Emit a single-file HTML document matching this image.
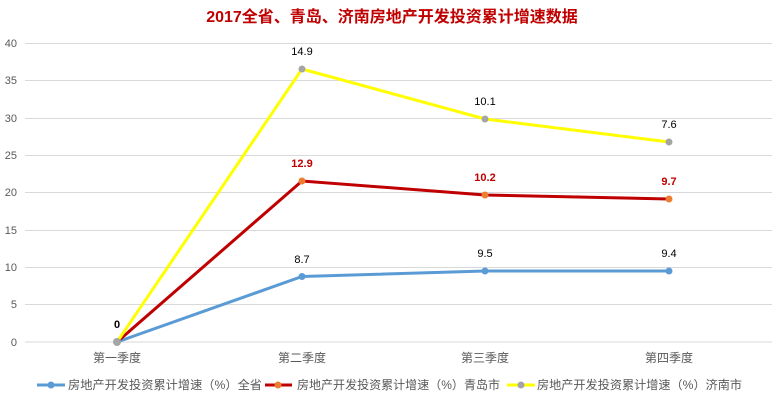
<!DOCTYPE html>
<html><head><meta charset="utf-8"><style>
html,body{margin:0;padding:0;background:#fff;}
svg{display:block;font-family:"Liberation Sans","Noto Sans CJK SC",sans-serif;}
</style></head><body>
<svg width="775" height="402" viewBox="0 0 775 402" xmlns="http://www.w3.org/2000/svg">
<rect width="775" height="402" fill="#fff"/>
<text x="392" y="22" text-anchor="middle" font-size="16" font-weight="bold" fill="#c00000">2017全省、青岛、济南房地产开发投资累计增速数据</text>
<g stroke="#d9d9d9" stroke-width="1">
<line x1="25" x2="772" y1="43.5" y2="43.5"/>
<line x1="25" x2="772" y1="80.5" y2="80.5"/>
<line x1="25" x2="772" y1="118.5" y2="118.5"/>
<line x1="25" x2="772" y1="155.5" y2="155.5"/>
<line x1="25" x2="772" y1="192.5" y2="192.5"/>
<line x1="25" x2="772" y1="230.5" y2="230.5"/>
<line x1="25" x2="772" y1="267.5" y2="267.5"/>
<line x1="25" x2="772" y1="304.5" y2="304.5"/>
<line x1="25" x2="772" y1="342" y2="342"/>
</g>
<g font-size="11" fill="#595959" text-anchor="end">
<text x="17" y="47">40</text><text x="17" y="84">35</text><text x="17" y="122">30</text>
<text x="17" y="159">25</text><text x="17" y="196">20</text><text x="17" y="234">15</text>
<text x="17" y="271">10</text><text x="17" y="308">5</text><text x="17" y="346">0</text>
</g>
<g font-size="12" fill="#595959" text-anchor="middle">
<text x="117" y="362">第一季度</text><text x="302" y="362">第二季度</text>
<text x="485" y="362">第三季度</text><text x="669" y="362">第四季度</text>
</g>
<polyline points="117,342 302,276.5 485,271 669,271" fill="none" stroke="#5b9bd5" stroke-width="3"/>
<polyline points="117,342 302,181 485,195 669,199" fill="none" stroke="#c00000" stroke-width="3"/>
<polyline points="117,342 302,69 485,119 669,142" fill="none" stroke="#ffff00" stroke-width="3"/>
<g fill="#5b9bd5"><circle cx="302" cy="276.5" r="3.5"/><circle cx="485" cy="271" r="3.5"/><circle cx="669" cy="271" r="3.5"/></g>
<g fill="#ed7d31"><circle cx="302" cy="181" r="3.5"/><circle cx="485" cy="195" r="3.5"/><circle cx="669" cy="199" r="3.5"/></g>
<g fill="#a5a5a5"><circle cx="117" cy="342" r="4"/><circle cx="302" cy="69" r="3.5"/><circle cx="485" cy="119" r="3.5"/><circle cx="669" cy="142" r="3.5"/></g>
<g font-size="11" text-anchor="middle" fill="#000">
<text x="117" y="328" font-weight="bold">0</text>
<text x="302" y="263">8.7</text><text x="485" y="257">9.5</text><text x="669" y="257">9.4</text>
<text x="302" y="55">14.9</text><text x="485" y="105">10.1</text><text x="669" y="128">7.6</text>
</g>
<g font-size="11" text-anchor="middle" fill="#c00000" font-weight="bold">
<text x="302" y="167">12.9</text><text x="485" y="181">10.2</text><text x="669" y="185">9.7</text>
</g>
<g font-size="12" fill="#595959">
<line x1="37" x2="65" y1="385" y2="385" stroke="#5b9bd5" stroke-width="3"/><circle cx="51" cy="385" r="3.5" fill="#5b9bd5"/>
<text x="68" y="389" textLength="194" lengthAdjust="spacingAndGlyphs">房地产开发投资累计增速（%）全省</text>
<line x1="265" x2="292" y1="385" y2="385" stroke="#c00000" stroke-width="3"/><circle cx="278" cy="385" r="3.5" fill="#ed7d31"/>
<text x="297" y="389" textLength="203" lengthAdjust="spacingAndGlyphs">房地产开发投资累计增速（%）青岛市</text>
<line x1="507" x2="535" y1="385" y2="385" stroke="#ffff00" stroke-width="3"/><circle cx="521" cy="385" r="3.5" fill="#a5a5a5"/>
<text x="537" y="389" textLength="205" lengthAdjust="spacingAndGlyphs">房地产开发投资累计增速（%）济南市</text>
</g>
</svg>
</body></html>
